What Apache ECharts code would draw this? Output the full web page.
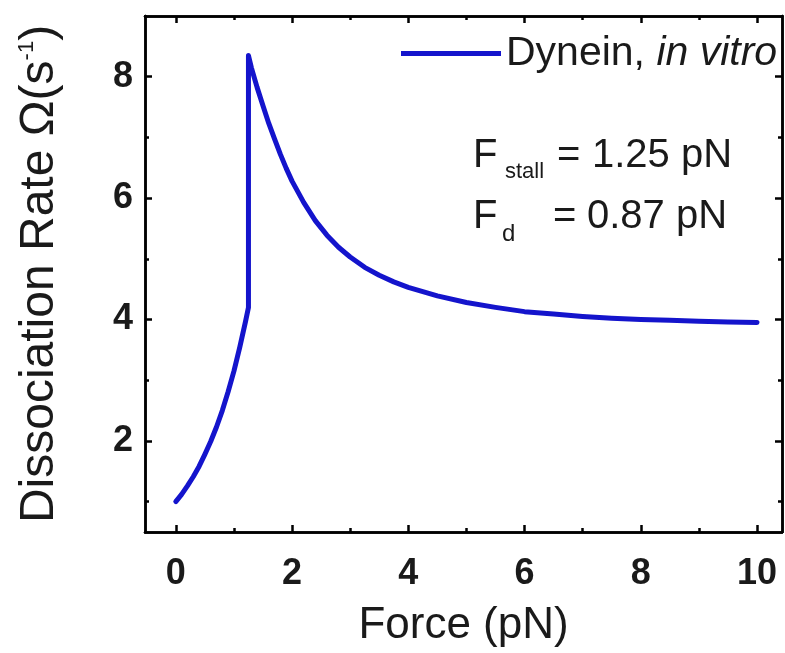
<!DOCTYPE html>
<html>
<head>
<meta charset="utf-8">
<script src="https://cdn.jsdelivr.net/npm/echarts@6/dist/echarts.min.js"></script>
<style>html,body{margin:0;padding:0;background:#fff}#c{width:785px;height:653px}</style>
</head>
<body>
<div id="c"></div>
<script>
// ---- data ----
var seriesName = 'Dynein, in vitro';
var forceValues = [0, 0.1, 0.2, 0.3, 0.4, 0.5, 0.6, 0.7, 0.8, 0.9, 1.0, 1.1, 1.2, 1.25, 1.25,
  1.3, 1.4, 1.5, 1.6, 1.7, 1.8, 1.9, 2.0, 2.2, 2.4, 2.6, 2.8, 3.0, 3.25, 3.5, 3.75, 4.0,
  4.5, 5.0, 5.5, 6.0, 6.5, 7.0, 7.5, 8.0, 8.5, 9.0, 9.5, 10.0];
var rateValues = [1.00, 1.12, 1.26, 1.41, 1.58, 1.78, 1.99, 2.23, 2.50, 2.81, 3.15, 3.54, 3.97, 4.20, 8.35,
  8.15, 7.82, 7.52, 7.23, 6.97, 6.72, 6.49, 6.28, 5.93, 5.63, 5.39, 5.19, 5.03, 4.86, 4.73, 4.62, 4.53,
  4.39, 4.28, 4.20, 4.13, 4.09, 4.05, 4.02, 4.00, 3.99, 3.97, 3.96, 3.95];
var xMajorTicks = [0, 2, 4, 6, 8, 10];
var xMinorTicks = [1, 3, 5, 7, 9];
var yMajorTicks = [2, 4, 6, 8];
var yMinorTicks = [1, 3, 5, 7];
var annotationLines = ['{F|F}{sub|stall}{eq|=}{v|1.25 pN}', '{F2|F}{sub2|d}{eq2|=}{v|0.87 pN}'];

// ---- chart ----
var FONT = "'Liberation Sans', Arial, Helvetica, sans-serif";
var TXT = '#1a1a1a';
var BLUE = '#1414cc';
var XMIN = -0.53, XMAX = 10.43, YMIN = 0.5, YMAX = 9.0;
var lineW = 2.5;

var points = forceValues.map(function (f, i) { return [f, rateValues[i]]; });

function xAxisDef(pos, ticks, len, labels) {
  return {
    type: 'value', position: pos, min: XMIN, max: XMAX,
    axisLine: { show: true, onZero: false, lineStyle: { color: '#000', width: lineW } },
    axisTick: { show: true, inside: true, length: len, customValues: ticks, lineStyle: { color: '#000', width: 2.5 } },
    axisLabel: labels ? { show: true, customValues: ticks, margin: 24, fontFamily: FONT, fontWeight: 'bold', fontSize: 36, color: TXT } : { show: false },
    splitLine: { show: false }
  };
}
function yAxisDef(pos, ticks, len, labels) {
  return {
    type: 'value', position: pos, min: YMIN, max: YMAX,
    axisLine: { show: true, onZero: false, lineStyle: { color: '#000', width: lineW } },
    axisTick: { show: true, inside: true, length: len, customValues: ticks, lineStyle: { color: '#000', width: 2.5 } },
    axisLabel: labels ? { show: true, customValues: ticks, margin: 12, fontFamily: FONT, fontWeight: 'bold', fontSize: 36, color: TXT } : { show: false },
    splitLine: { show: false }
  };
}

var xa0 = xAxisDef('bottom', xMajorTicks, 7, true);
xa0.name = 'Force (pN)';
xa0.nameLocation = 'middle';
xa0.nameGap = 72;
xa0.nameTextStyle = { fontFamily: FONT, fontSize: 44, color: TXT };

var ya0 = yAxisDef('left', yMajorTicks, 7, true);
ya0.name = 'Dissociation Rate Ω(s{sup|-1})';
ya0.nameLocation = 'middle';
ya0.nameGap = 81;
ya0.nameTextStyle = {
  fontFamily: FONT, fontSize: 48, color: TXT,
  rich: { sup: { fontFamily: FONT, fontSize: 22, color: TXT, verticalAlign: 'top', lineHeight: 48 } }
};

var option = {
  backgroundColor: '#fff',
  animation: false,
  grid: { left: 145, right: 3, top: 16, bottom: 121, containLabel: false },
  xAxis: [
    xa0,
    xAxisDef('bottom', xMinorTicks, 4, false),
    xAxisDef('top', xMajorTicks, 7, false),
    xAxisDef('top', xMinorTicks, 4, false)
  ],
  yAxis: [
    ya0,
    yAxisDef('left', yMinorTicks, 4, false),
    yAxisDef('right', yMajorTicks, 7, false),
    yAxisDef('right', yMinorTicks, 4, false)
  ],
  legend: {
    show: true,
    left: 396, top: 28,
    icon: 'rect', itemWidth: 100, itemHeight: 5, itemGap: 0,
    data: [seriesName],
    formatter: function () { return 'Dynein, {i|in vitro}'; },
    textStyle: {
      fontFamily: FONT, fontSize: 41, color: TXT, padding: [0, 0, 0, 0],
      rich: { i: { fontFamily: FONT, fontSize: 41, fontStyle: 'italic', color: TXT } }
    }
  },
  graphic: [
    {
      type: 'text', left: 473, top: 136,
      style: {
        text: annotationLines[0], fontFamily: FONT, fontSize: 40, fill: TXT,
        rich: {
          F: { fontFamily: FONT, fontSize: 40, fill: TXT, width: 32 },
          sub: { fontFamily: FONT, fontSize: 22, fill: TXT, verticalAlign: 'bottom', lineHeight: 54, width: 52 },
          eq: { fontFamily: FONT, fontSize: 40, fill: TXT, width: 35 },
          v: { fontFamily: FONT, fontSize: 40, fill: TXT }
        }
      }
    },
    {
      type: 'text', left: 473, top: 197,
      style: {
        text: annotationLines[1], fontFamily: FONT, fontSize: 40, fill: TXT,
        rich: {
          F2: { fontFamily: FONT, fontSize: 40, fill: TXT, width: 29 },
          sub2: { fontFamily: FONT, fontSize: 24, fill: TXT, verticalAlign: 'bottom', lineHeight: 58, width: 51 },
          eq2: { fontFamily: FONT, fontSize: 40, fill: TXT, width: 34 },
          v: { fontFamily: FONT, fontSize: 40, fill: TXT }
        }
      }
    }
  ],
  series: [{
    name: seriesName,
    type: 'line',
    xAxisIndex: 0, yAxisIndex: 0,
    data: points,
    showSymbol: false,
    symbol: 'none',
    smooth: false,
    itemStyle: { color: BLUE },
    lineStyle: { color: BLUE, width: 5, cap: 'round', join: 'round' }
  }]
};

var chart = echarts.init(document.getElementById('c'), null, { renderer: 'canvas' });
chart.setOption(option);
</script>
</body>
</html>
